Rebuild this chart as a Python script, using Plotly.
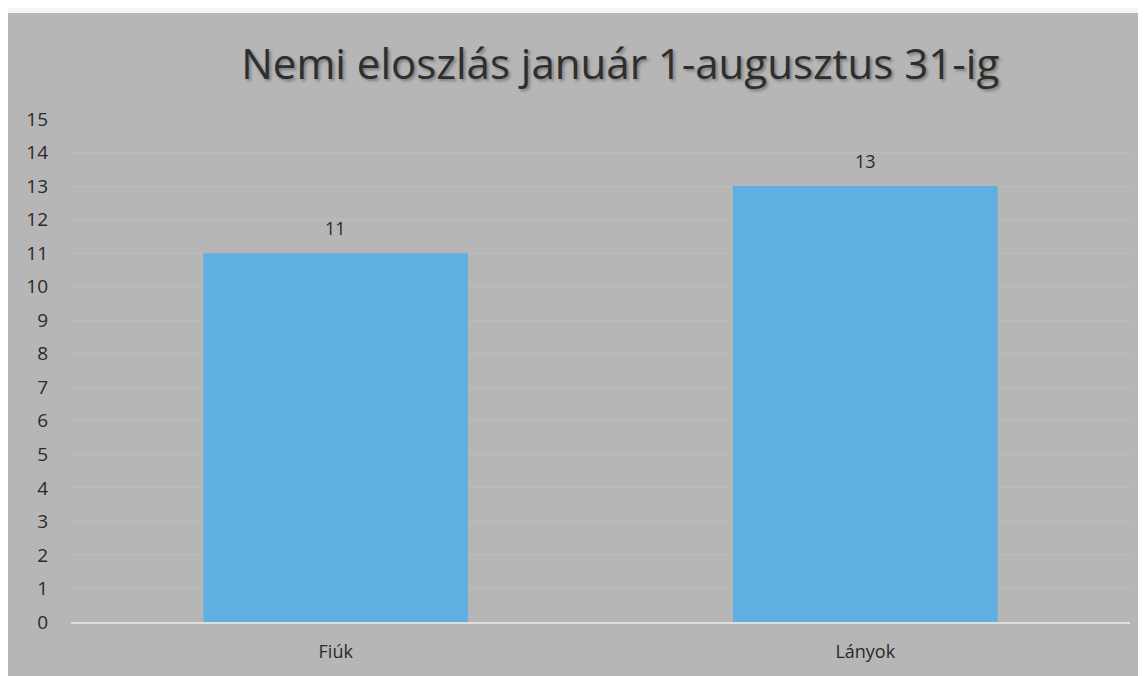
import plotly.graph_objects as go

categories = ["Fiúk", "Lányok"]
values = [11, 13]
y_ticks = list(range(0, 16))

FONT = "Open Sans"
TXT = "#2a2a2a"

fig = go.Figure()
fig.add_trace(go.Bar(
    x=categories, y=values,
    marker=dict(color="#5fafe2", line=dict(width=0)),
    hoverinfo="x+y",
))

annotations = [
    dict(x=c, y=v, xref="x", yref="y", text=str(v), showarrow=False,
         yanchor="middle", yshift=25,
         font=dict(size=18, color=TXT, family=FONT))
    for c, v in zip(categories, values)
]

fig.update_layout(
    width=1138, height=668,
    paper_bgcolor="#b6b6b6", plot_bgcolor="#b6b6b6",
    margin=dict(l=63, r=16, t=111, b=54),
    bargap=0.5, showlegend=False,
    annotations=annotations,
    title=dict(text="Nemi eloszlás január 1-augusztus 31-ig",
               xref="container", x=0.538, xanchor="center",
               y=0.915, yanchor="middle",
               font=dict(size=42, color="#2e2e2e", family=FONT,
                         shadow="2px 2px 3px #7a7a7a")),
    shapes=[dict(type="rect", xref="paper", yref="paper",
                 x0=-0.1, x1=1.05, y0=1.2107, y1=1.25,
                 fillcolor="#f4f4f4", line=dict(width=0), layer="below")],
)
fig.update_yaxes(range=[0, 15], tickvals=y_ticks, showgrid=True,
                 gridcolor="rgba(255,255,255,0.09)", gridwidth=1,
                 zeroline=False, showline=False,
                 tickfont=dict(size=19, color=TXT, family=FONT),
                 ticks="", ticklabelstandoff=22)
fig.update_xaxes(showline=True, linecolor="#dedede", linewidth=2,
                 tickfont=dict(size=18, color=TXT, family=FONT),
                 ticks="", ticklabelstandoff=12)

fig.write_html("out.html")
